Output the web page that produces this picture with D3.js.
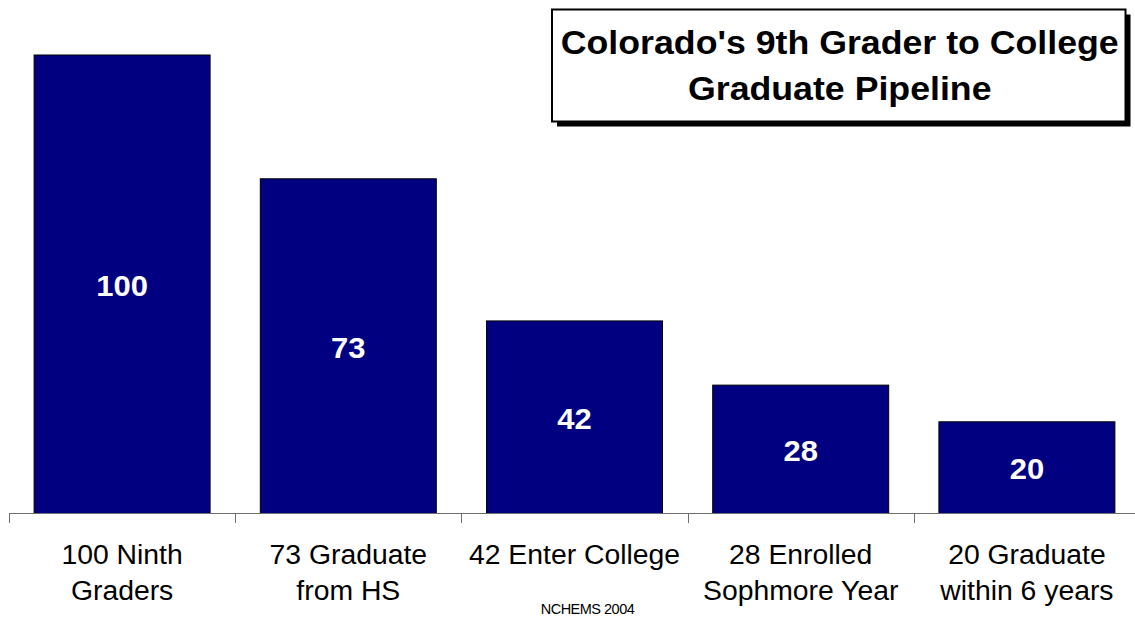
<!DOCTYPE html>
<html>
<head>
<meta charset="utf-8">
<script src="https://cdn.jsdelivr.net/npm/d3@7"></script>
<style>
  html, body { margin: 0; padding: 0; background: #fff; }
  svg { display: block; font-family: "Liberation Sans", Arial, sans-serif; }
</style>
</head>
<body>
<svg id="chart" width="1135" height="617"></svg>
<script>
const categories = ["100 Ninth Graders", "73 Graduate from HS", "42 Enter College", "28 Enrolled Sophmore Year", "20 Graduate within 6 years"];
const categoryLines = [["100 Ninth", "Graders"], ["73 Graduate", "from HS"], ["42 Enter College"], ["28 Enrolled", "Sophmore Year"], ["20 Graduate", "within 6 years"]];
const values = [100, 73, 42, 28, 20];
const titleLines = ["Colorado's 9th Grader to College", "Graduate Pipeline"];
const sourceNote = "NCHEMS 2004";

const svg = d3.select("#chart");
const baseY = 513.5;
const sx = 1.05; // horizontal text stretch seen in the reference

const x = d3.scaleBand().domain(categories).range([9, 1140]).paddingInner(0.222).paddingOuter(0.111);
const y = d3.scaleLinear().domain([0, 100]).range([baseY, 55]);

// bars
svg.selectAll("rect.bar").data(values).join("rect")
  .attr("class", "bar")
  .attr("x", (d, i) => x(categories[i]))
  .attr("y", d => y(d))
  .attr("width", x.bandwidth())
  .attr("height", d => y(0) - y(d))
  .attr("fill", "#000080")
  .attr("stroke", "#000")
  .attr("stroke-width", 1);

// value labels
svg.selectAll("text.val").data(values).join("text")
  .attr("class", "val")
  .attr("transform", (d, i) => `translate(${x(categories[i]) + x.bandwidth() / 2},${(y(d) + y(0)) / 2 + 11.5}) scale(${sx},1)`)
  .attr("text-anchor", "middle")
  .attr("fill", "#fff")
  .attr("font-weight", "bold")
  .attr("font-size", 29.5)
  .text(d => d);

// axis line and ticks
const axisG = svg.append("g");
axisG.append("line")
  .attr("x1", 9).attr("x2", 1140)
  .attr("y1", baseY).attr("y2", baseY)
  .attr("stroke", "#6e6e6e").attr("stroke-width", 1);
const step = x.step();
const tickXs = d3.range(categories.length + 1).map(i => 9 + i * step);
axisG.selectAll("line.tick").data(tickXs).join("line")
  .attr("class", "tick")
  .attr("x1", d => Math.round(d) + 0.5).attr("x2", d => Math.round(d) + 0.5)
  .attr("y1", baseY).attr("y2", baseY + 9.5)
  .attr("stroke", "#6e6e6e").attr("stroke-width", 1);

// category labels
svg.selectAll("text.cat").data(categoryLines).join("text")
  .attr("class", "cat")
  .attr("transform", (d, i) => `translate(${x(categories[i]) + x.bandwidth() / 2},564) scale(${sx},1)`)
  .attr("text-anchor", "middle")
  .attr("font-size", 27)
  .attr("fill", "#000")
  .each(function(lines) {
    const t = d3.select(this);
    lines.forEach((ln, j) => {
      t.append("tspan").attr("x", 0).attr("y", j * 36).text(ln);
    });
  });

// source note
svg.append("text")
  .attr("transform", "translate(587.5,614)")
  .attr("text-anchor", "middle")
  .attr("font-size", 14.5)
  .attr("letter-spacing", -0.5)
  .attr("fill", "#000")
  .text(sourceNote);

// title box with shadow
const box = { x: 552, y: 9.5, w: 573.5, h: 112 };
svg.append("rect")
  .attr("x", box.x + 5).attr("y", box.y + 5)
  .attr("width", box.w).attr("height", box.h)
  .attr("fill", "#000");
svg.append("rect")
  .attr("x", box.x).attr("y", box.y)
  .attr("width", box.w).attr("height", box.h)
  .attr("fill", "#fff").attr("stroke", "#000").attr("stroke-width", 2);
svg.selectAll("text.title").data(titleLines).join("text")
  .attr("class", "title")
  .attr("transform", (d, i) => `translate(${box.x + box.w / 2 + 1},${54 + i * 46}) scale(${sx},1)`)
  .attr("text-anchor", "middle")
  .attr("font-weight", "bold")
  .attr("font-size", 34)
  .attr("fill", "#000")
  .text(d => d);
</script>
</body>
</html>
